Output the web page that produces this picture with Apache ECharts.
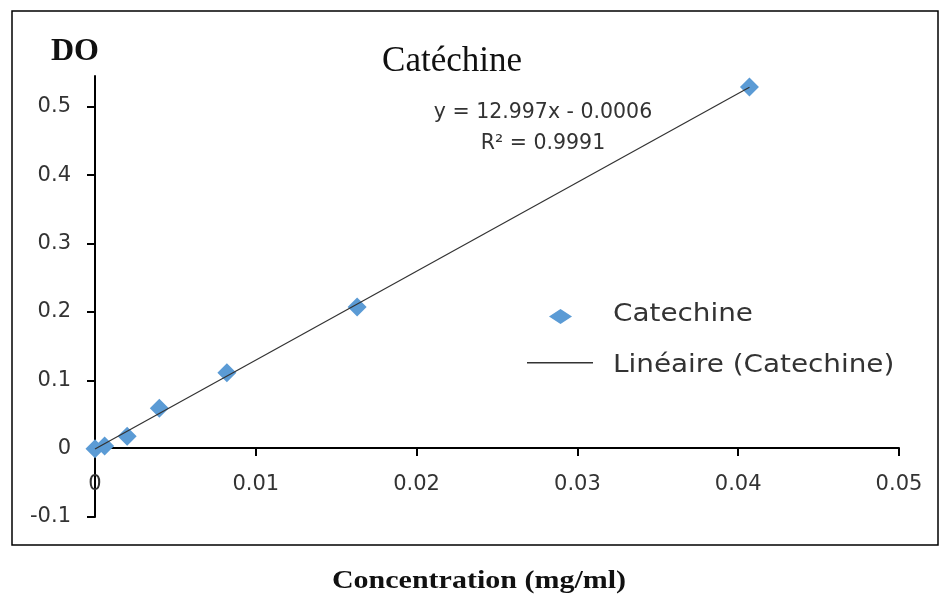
<!DOCTYPE html>
<html>
<head>
<meta charset="utf-8">
<script src="https://cdn.jsdelivr.net/npm/echarts@6/dist/echarts.min.js"></script>
<style>html,body{margin:0;padding:0;background:#fff}#c{width:940px;height:598px}</style>
</head>
<body>
<div id="c"></div>
<script>
// Data
var concentrations = [0, 0.0006, 0.002, 0.004, 0.0082, 0.0163, 0.0407];
var absorbances   = [0, 0.004, 0.018, 0.059, 0.111, 0.207, 0.529];
var trendX = [0, 0.0407];
var trendY = [-0.0006, 0.5284];
var xTicks = [0, 0.01, 0.02, 0.03, 0.04, 0.05];
var yTicks = [-0.1, 0, 0.1, 0.2, 0.3, 0.4, 0.5];
var seriesName = 'Catechine';
var trendName = 'Linéaire (Catechine)';
var titleText = 'Catéchine';
var equationText = 'y = 12.997x - 0.0006';
var r2Text = 'R² = 0.9991';
var yName = 'DO';
var xName = 'Concentration (mg/ml)';

var chart = echarts.init(document.getElementById('c'), null, {renderer: 'canvas'});
var labelFont = 'DejaVu Sans';
var option = {
  animation: false,
  backgroundColor: '#fff',
  grid: {left: 95, right: 41, top: 76, bottom: 81, containLabel: false},
  xAxis: {
    type: 'value', min: 0, max: 0.05, interval: 0.01, offset: -69,
    axisLine: {show: true, onZero: false, lineStyle: {color: '#000', width: 2}},
    axisTick: {show: true, length: 8, lineStyle: {color: '#000', width: 2}},
    axisLabel: {margin: 26, fontSize: 21, fontFamily: labelFont, color: '#333', customValues: xTicks,
      formatter: function (v) { return String(+v.toFixed(2)); }},
    splitLine: {show: false}
  },
  yAxis: {
    type: 'value', min: -0.1, max: 0.545,
    axisLine: {show: true, lineStyle: {color: '#000', width: 2}},
    axisTick: {show: true, length: 8, lineStyle: {color: '#000', width: 2}, customValues: yTicks},
    axisLabel: {margin: 24, fontSize: 21, fontFamily: labelFont, color: '#333', customValues: yTicks,
      formatter: function (v) { return String(+v.toFixed(1)); }},
    splitLine: {show: false}
  },
  legend: [
    {
      orient: 'vertical', left: 544, top: 304, itemWidth: 23, itemHeight: 15,
      data: [{name: seriesName, icon: 'diamond'}],
      formatter: function () { return ''; },
      selectedMode: false
    },
    {
      orient: 'vertical', left: 522, top: 357, itemWidth: 66, itemHeight: 1.5,
      data: [{name: trendName, icon: 'rect'}],
      formatter: function () { return ''; },
      selectedMode: false
    }
  ],
  series: [
    {
      name: trendName, type: 'line', symbol: 'none', z: 3,
      data: trendX.map(function (x, i) { return [x, trendY[i]]; }),
      lineStyle: {color: '#333', width: 1.2},
      itemStyle: {color: '#333'}
    },
    {
      name: seriesName, type: 'scatter', symbol: 'diamond', symbolSize: [19, 19], z: 2,
      data: concentrations.map(function (x, i) { return [x, absorbances[i]]; }),
      itemStyle: {color: '#5B9BD5', opacity: 1}
    }
  ],
  graphic: [
    {type: 'rect', shape: {x: 12, y: 11, width: 926, height: 534}, style: {fill: 'none', stroke: '#000', lineWidth: 1.5}, silent: true, z: -1},
    {type: 'text', x: 452, y: 62, style: {text: titleText, font: '35px "Liberation Serif"', fill: '#111', textAlign: 'center', textVerticalAlign: 'middle'}},
    {type: 'text', x: 543, y: 113, style: {text: equationText, font: '20.5px "DejaVu Sans"', fill: '#333', textAlign: 'center', textVerticalAlign: 'middle'}},
    {type: 'text', x: 543, y: 144, style: {text: r2Text, font: '20.5px "DejaVu Sans"', fill: '#333', textAlign: 'center', textVerticalAlign: 'middle'}},
    {type: 'text', x: 75, y: 52, style: {text: yName, font: 'bold 32px "Liberation Serif"', fill: '#111', textAlign: 'center', textVerticalAlign: 'middle'}},
    {type: 'text', x: 479, y: 582, scaleX: 1.2, style: {text: xName, font: 'bold 25px "Liberation Serif"', fill: '#111', textAlign: 'center', textVerticalAlign: 'middle'}},
    {type: 'text', x: 613, y: 315, scaleX: 1.16, style: {text: seriesName, font: '24px "DejaVu Sans"', fill: '#333', textAlign: 'left', textVerticalAlign: 'middle'}},
    {type: 'text', x: 613, y: 366, scaleX: 1.16, style: {text: trendName, font: '24px "DejaVu Sans"', fill: '#333', textAlign: 'left', textVerticalAlign: 'middle'}}
  ]
};
chart.setOption(option);
</script>
</body>
</html>
